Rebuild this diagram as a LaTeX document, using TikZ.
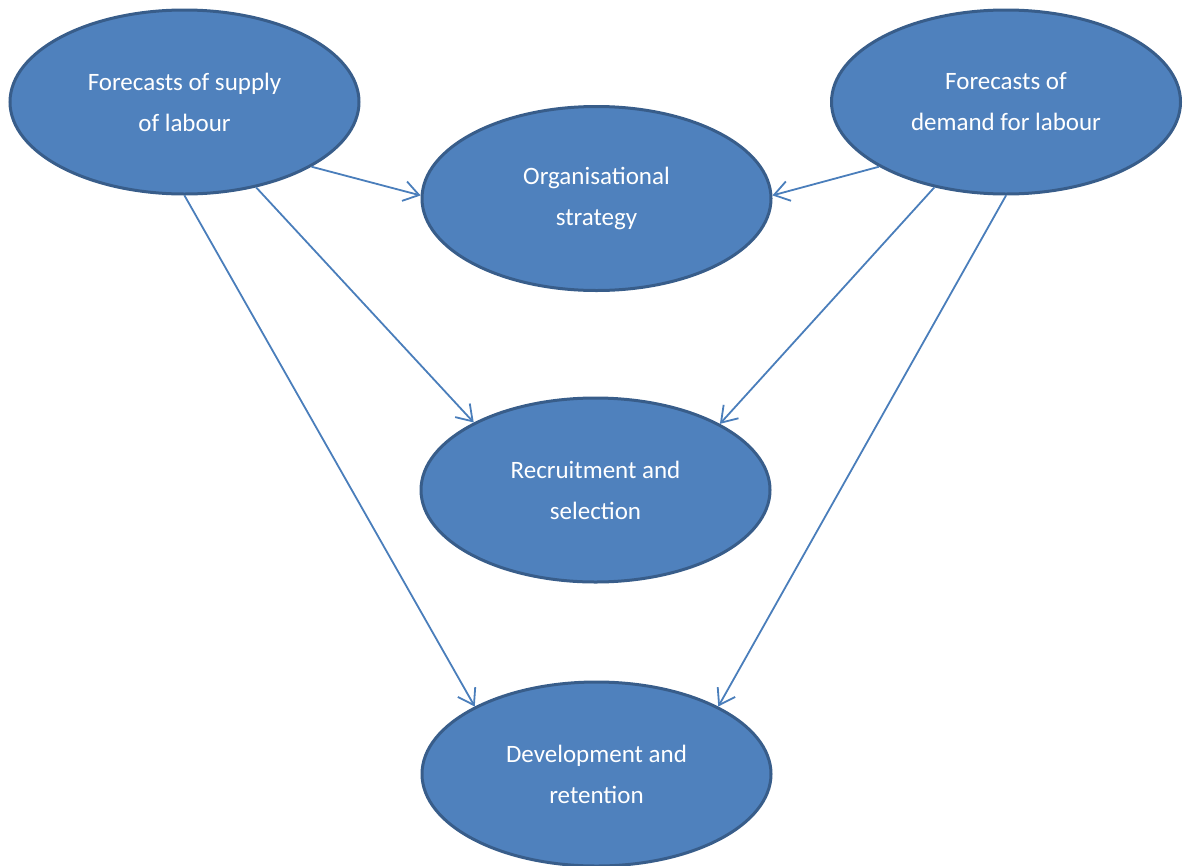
\documentclass[tikz,border=0pt]{standalone}
\usepackage{fontspec}
\setmainfont{Carlito}
\usetikzlibrary{shapes.geometric,arrows.meta}
\definecolor{ovfill}{HTML}{4F81BD}
\definecolor{ovline}{HTML}{385D8A}
\definecolor{arrcol}{HTML}{4A7EBB}
\begin{document}
\begin{tikzpicture}[x=1pt,y=-1pt,
  oval/.style={ellipse,draw=ovline,fill=ovfill,line width=3pt,
    minimum width=349pt,minimum height=184pt,inner sep=0pt,
    text=white,align=center,font=\fontsize{25pt}{41pt}\selectfont},
  conn/.style={draw=arrcol,line width=1.8pt,
    -{Straight Barb[length=15pt,width=20pt,line width=1.8pt]}}]
\useasboundingbox (0,0) rectangle (1190,865);
\node[oval] (sup) at (184.5,102) {Forecasts of supply\\of labour};
\node[oval] (dem) at (1006,102) {Forecasts of\\demand for labour};
\node[oval] (org) at (596.5,198.5) {Organisational\\strategy};
\node[oval] (rec) at (595.5,490) {Recruitment and\\selection};
\node[oval] (dev) at (596.5,774) {Development and\\retention};
\draw[conn] (sup.-27.4) -- (org.179);
\draw[conn] (sup.-50.5) -- (rec.151.7);
\draw[conn] (sup.-90) -- (dev.151.1);
\draw[conn] (dem.207.6) -- (org.1);
\draw[conn] (dem.230.3) -- (rec.28.5);
\draw[conn] (dem.270) -- (dev.29.2);
\end{tikzpicture}
\end{document}
